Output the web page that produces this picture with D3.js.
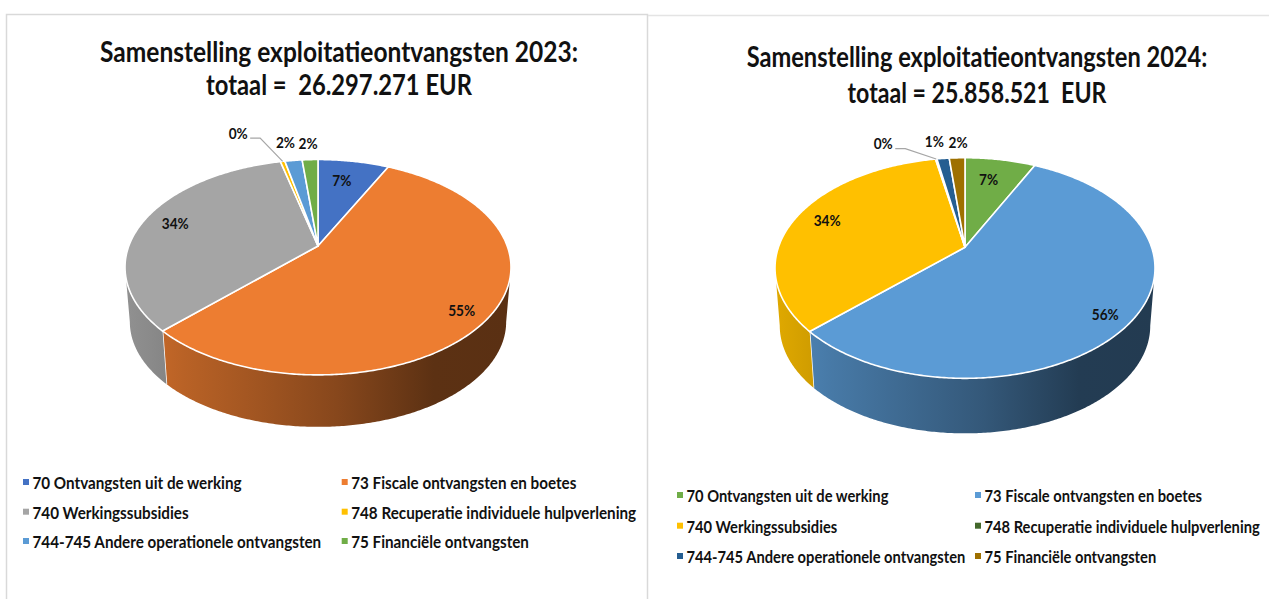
<!DOCTYPE html>
<html>
  <head>
    <meta charset="utf-8">
    <title>Samenstelling exploitatieontvangsten</title>
    <script src="https://cdn.jsdelivr.net/npm/d3@7"></script>
    <style>
    html, body { margin: 0; padding: 0; background: #fff; }
    svg { display: block; }
    text { font-family: Lato, 'Open Sans', sans-serif; font-weight: 700; fill: #111; white-space: pre; }
    .title { font-size: 29px; text-anchor: middle; }
    .legend { font-size: 17.5px; dominant-baseline: central; }
    .pct { font-size: 15.5px; text-anchor: middle; dominant-baseline: central; }
    </style>
  </head>
  <body>
    <div id="vis"></div>
    <script>
      var categories = ['70 Ontvangsten uit de werking', '73 Fiscale ontvangsten en boetes', '740 Werkingssubsidies',
        '748 Recuperatie individuele hulpverlening', '744-745 Andere operationele ontvangsten', '75 Financiële ontvangsten'];

      // share of the total in percent
      var values2023 = [7.2, 55.3, 33.7, 0.45, 1.75, 1.6];
      var values2024 = [7.2, 55.7, 34.1, 0.15, 1.25, 1.6];

      var titles2023 = ['Samenstelling exploitatieontvangsten 2023:', 'totaal =  26.297.271 EUR'];
      var titles2024 = ['Samenstelling exploitatieontvangsten 2024:', 'totaal = 25.858.521  EUR'];

      var colors2023 = ['#4472c4', '#ed7d31', '#a5a5a5', '#ffc000', '#5b9bd5', '#70ad47'];
      var colors2024 = ['#70ad47', '#5b9bd5', '#ffc000', '#43682b', '#255e91', '#9e7000'];

      // how bright the side wall is from left to right
      var wallStops = [0, 0.15, 0.55, 0.8, 1];
      var wallShade = [0.88, 0.78, 0.57, 0.39, 0.38];

      var width = 1269;
      var height = 599;

      var charts = [
        { values: values2023, titles: titles2023, colors: colors2023,
          cx: 318, cy: 246, rx: 189.2, ry: 103.5, k: 0.197, depth: 55.2,
          titleX: 339, titleY: [62, 95], titleW: [478, 266],
          labelR: [0.75, 0.8, 0.8, 1.3, 1.15, 1.15],
          nudge: [[-4, 0], [8, 11], [-3, -1], [-36, -8], [-5, -8], [-1, -6]],
          legendX: [23, 341.7], legendY: [482, 511.7, 541], legendW: 289 },
        { values: values2024, titles: titles2024, colors: colors2024,
          cx: 965, cy: 247.3, rx: 186.6, ry: 106.4, k: 0.188, depth: 58.3,
          titleX: 977, titleY: [67, 103], titleW: [461, 259],
          labelR: [0.75, 0.8, 0.8, 1.3, 1.15, 1.15],
          nudge: [[-4, 0], [8, 12], [-2, -2], [-46, 6], [-6, -6], [2, -5]],
          legendX: [677, 975], legendY: [495, 525.7, 556], legendW: 279 }
      ];

      var svg = d3.select('#vis').append('svg')
          .attr('width', width)
          .attr('height', height);

      // card borders
      svg.append('path')
          .attr('d', 'M6.5,' + height + 'V14.5H647.5V' + height)
          .attr('fill', 'none').attr('stroke', '#d9d9d9').attr('stroke-width', 1.5);
      svg.append('path')
          .attr('d', 'M648,15.5H' + width)
          .attr('fill', 'none').attr('stroke', '#e4e4e4').attr('stroke-width', 1.5);

      var defs = svg.append('defs');
      var line = d3.line();

      charts.forEach(function(chart, n) {
        createPie(chart, n);
      });

      // narrow the text around x, the font is wider than the original
      function squeezeText(sel, x, y, sx) {
        sel.attr('transform', 'translate(' + x + ',' + y + ') scale(' + sx + ',1)');
      }

      function createPie(c, n) {
        var g = svg.append('g');
        var color = d3.scaleOrdinal().domain(categories).range(c.colors);
        var arcs = d3.pie().sort(null).value(function(d) { return d; })(c.values);
        var total = d3.sum(c.values);

        // tilted disc: a unit circle through a small perspective
        function project(a, r, drop, s) {
          var u = Math.sin(a) * r, v = -Math.cos(a) * r;
          var w = 1 - c.k * v;
          return [c.cx + c.rx * (s || 1) * u / w, c.cy + (drop || 0) + c.ry * (s || 1) * v / w];
        }
        function samples(a0, a1) {
          var step = 0.01, list = d3.range(a0, a1, step);
          list.push(a1);
          return list;
        }

        // side wall, only where it faces the viewer
        var wallA = Math.acos(-c.k), wallB = 2 * Math.PI - wallA;
        var left = project(wallB, 1)[0], right = project(wallA, 1)[0];

        arcs.forEach(function(d, i) {
          var a0 = Math.max(d.startAngle, wallA), a1 = Math.min(d.endAngle, wallB);
          if (a1 <= a0) return;
          var id = 'wall' + n + '-' + i;
          var grad = defs.append('linearGradient').attr('id', id)
              .attr('gradientUnits', 'userSpaceOnUse')
              .attr('x1', left).attr('x2', right).attr('y1', 0).attr('y2', 0);
          wallStops.forEach(function(s, j) {
            var col = d3.rgb(color(categories[i]));
            grad.append('stop').attr('offset', s)
                .attr('stop-color', d3.rgb(col.r * wallShade[j], col.g * wallShade[j], col.b * wallShade[j]));
          });
          var top = samples(a0, a1).map(function(a) { return project(a, 1); });
          var bottom = samples(a0, a1).reverse().map(function(a) { return project(a, 1, c.depth, 0.975); });
          g.append('path')
              .attr('d', line(top.concat(bottom)) + 'Z')
              .attr('fill', 'url(#' + id + ')');
          // white seam between two walls
          if (d.endAngle > wallA && d.endAngle < wallB) {
            g.append('path')
                .attr('d', line([project(d.endAngle, 1), project(d.endAngle, 1, c.depth, 0.975)]))
                .attr('stroke', '#fff').attr('stroke-width', 1.5);
          }
        });

        // top face
        arcs.forEach(function(d, i) {
          var rim = samples(d.startAngle, d.endAngle).map(function(a) { return project(a, 1); });
          g.append('path')
              .attr('d', line([[c.cx, c.cy]].concat(rim)) + 'Z')
              .attr('fill', color(categories[i]))
              .attr('stroke', '#fff')
              .attr('stroke-width', 1.6)
              .attr('stroke-linejoin', 'round');
        });

        // percentage labels
        var pct = d3.format('.0%');
        arcs.forEach(function(d, i) {
          var mid = (d.startAngle + d.endAngle) / 2;
          var p = project(mid, c.labelR[i]);
          var x = p[0] + c.nudge[i][0], y = p[1] + c.nudge[i][1];
          g.append('text').attr('class', 'pct')
              .text(pct(d.value / total))
              .call(squeezeText, x, y, 0.88);
          // smallest slice gets a leader line
          if (d.value < 0.5) {
            g.append('path')
                .attr('d', line([[x + 12, y + 5], [x + 22, y + 5], project(mid, 1)]))
                .attr('fill', 'none').attr('stroke', '#a6a6a6').attr('stroke-width', 1.2);
          }
        });

        // titles
        c.titles.forEach(function(t, i) {
          var title = g.append('text').attr('class', 'title').text(t);
          title.call(squeezeText, c.titleX, c.titleY[i], c.titleW[i] / title.node().getComputedTextLength());
        });

        // legend, two columns
        var items = g.selectAll('g.item').data(categories).enter().append('g').attr('class', 'item');
        items.append('rect')
            .attr('x', function(d, i) { return c.legendX[i % 2]; })
            .attr('y', function(d, i) { return c.legendY[Math.floor(i / 2)] - 3; })
            .attr('width', 6).attr('height', 6)
            .attr('fill', function(d) { return color(d); });
        var texts = items.append('text').attr('class', 'legend')
            .text(function(d) { return d; });
        var longest = d3.max(texts.nodes(), function(el) { return el.getComputedTextLength(); });
        var sx = c.legendW / longest;
        texts.each(function(d, i) {
          d3.select(this).call(squeezeText, c.legendX[i % 2] + 9.5, c.legendY[Math.floor(i / 2)], sx);
        });
      }
    </script>
  </body>
</html>
